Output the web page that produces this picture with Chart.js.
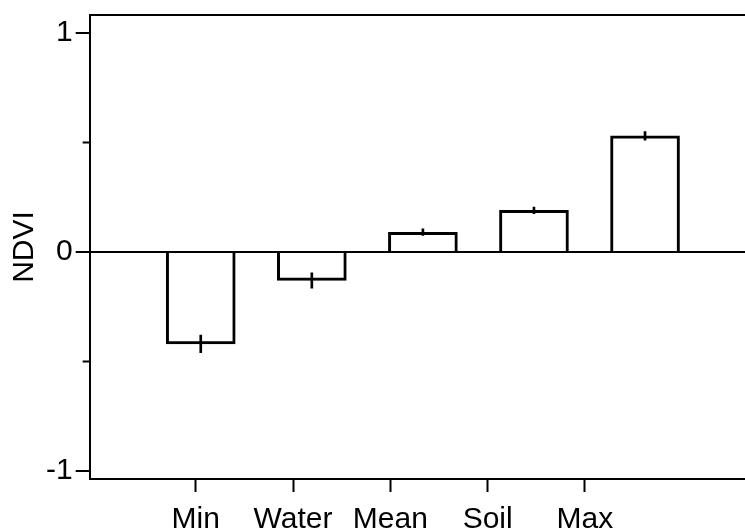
<!DOCTYPE html>
<html>
<head>
<meta charset="utf-8">
<script src="https://cdn.jsdelivr.net/npm/chart.js@4/dist/chart.umd.min.js"></script>
<style>
  html, body { margin: 0; padding: 0; background: #fff; }
  #wrap { width: 745px; height: 532px; }
</style>
</head>
<body>
<div id="wrap"><canvas id="grafico"></canvas></div>
<script>
// dados
const categorias = ["Min", "Water", "Mean", "Soil", "Max"];
const valores = [-0.42, -0.13, 0.09, 0.19, 0.53];
const erros = [0.04, 0.035, 0.015, 0.015, 0.02];
const ticksY = [-1, 0, 1];
const ticksMenoresY = [-0.5, 0.5];

// moldura de cima + ticks menores do eixo y
const moldura = {
    id: "moldura",
    afterDraw(chart) {
        const c = chart.ctx, a = chart.chartArea, sy = chart.scales.y;
        c.save();
        c.strokeStyle = "#000";
        c.lineWidth = 2;
        c.beginPath();
        c.moveTo(a.left, a.top);
        c.lineTo(a.right, a.top);
        ticksMenoresY.forEach(v => {
            const py = sy.getPixelForValue(v);
            c.moveTo(a.left - 7, py);
            c.lineTo(a.left, py);
        });
        c.stroke();
        c.restore();
    }
};

const fonte = { family: "'Liberation Sans', Arial, sans-serif", size: 30 };

new Chart(document.getElementById("grafico").getContext("2d"), {
    type: "bar",
    data: {
        datasets: [{
            label: "erro",
            data: categorias.map((c, i) => ({ x: i + 1, y: [valores[i] - erros[i], valores[i] + erros[i]] })),
            xAxisID: "xb",
            backgroundColor: "#000",
            borderWidth: 0,
            barThickness: 2,
            grouped: false,
            order: 0
        }, {
            label: "NDVI",
            data: categorias.map((c, i) => ({ x: i + 1, y: valores[i] })),
            xAxisID: "xb",
            backgroundColor: "#fff",
            borderColor: "#000",
            borderWidth: 3,
            barThickness: 69,
            grouped: false,
            order: 1
        }]
    },
    options: {
        responsive: true,
        maintainAspectRatio: false,
        animation: false,
        layout: { padding: { top: 15, left: 7, right: 0, bottom: 0 } },
        plugins: { legend: { display: false }, tooltip: { enabled: false } },
        scales: {
            xb: {
                type: "linear",
                display: false,
                offset: false,
                grid: { offset: false },
                min: 0,
                max: 5.9
            },
            x: {
                type: "linear",
                position: "bottom",
                offset: false,
                min: -0.09,
                max: 6.645,
                afterBuildTicks: s => { s.ticks = categorias.map((c, i) => ({ value: i + 1 })); },
                afterFit: s => { s.height = 53; },
                ticks: {
                    color: "#000",
                    font: fonte,
                    padding: 10,
                    maxRotation: 0,
                    autoSkip: false,
                    callback: v => categorias[v - 1]
                },
                grid: { offset: false, drawOnChartArea: false, tickLength: 13, tickColor: "#000", tickWidth: 2 },
                border: { display: true, color: "#000", width: 2 }
            },
            y: {
                min: -1.037,
                max: 1.082,
                afterBuildTicks: s => { s.ticks = ticksY.map(v => ({ value: v })); },
                afterFit: s => { s.paddingTop = 0; s.paddingBottom = 0; },
                ticks: { color: "#000", font: fonte, padding: 3 },
                grid: {
                    color: ctx => ctx.tick && ctx.tick.value === 0 ? "#000" : "rgba(0,0,0,0)",
                    lineWidth: 2,
                    tickLength: 14,
                    tickColor: "#000",
                    tickWidth: 2
                },
                border: { display: true, color: "#000", width: 2 },
                title: { display: true, text: "NDVI", color: "#000", font: fonte, padding: { top: 0, bottom: 0 } }
            }
        }
    },
    plugins: [moldura]
});
</script>
</body>
</html>
